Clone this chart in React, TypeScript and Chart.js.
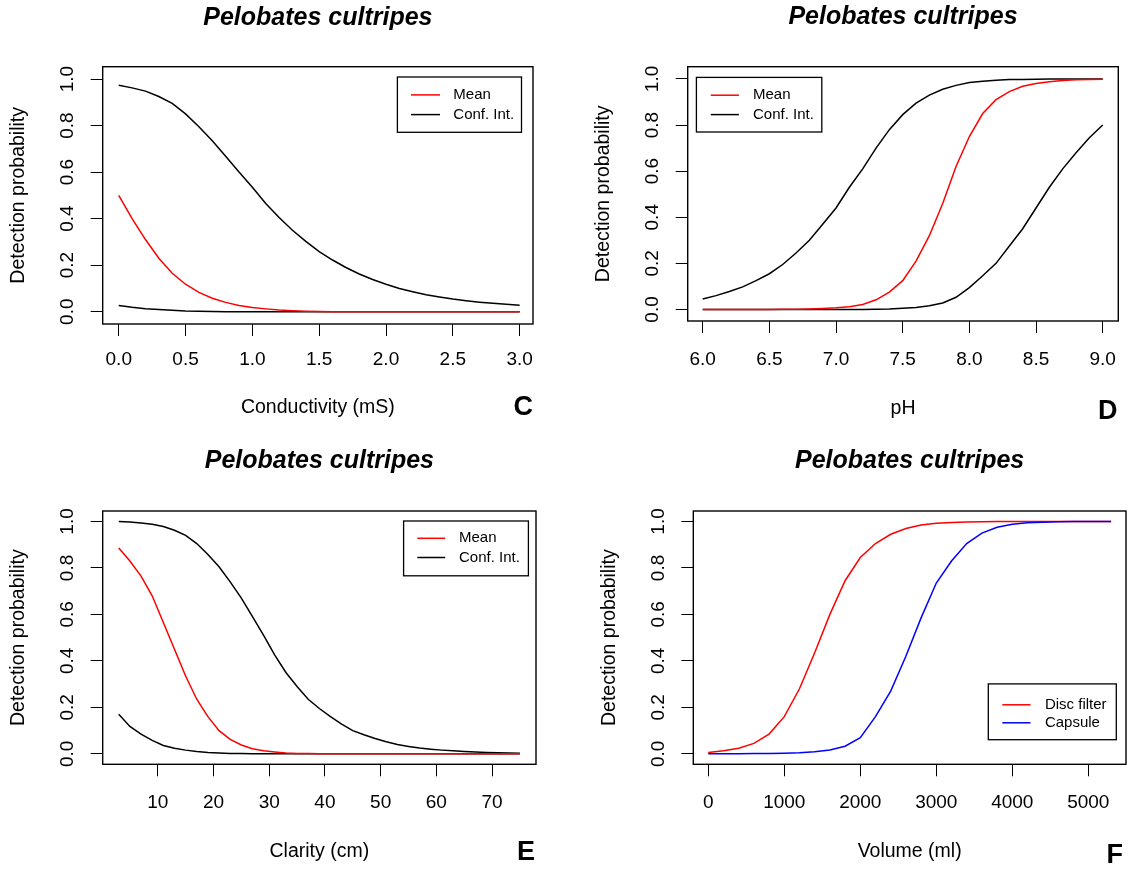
import React, { useEffect, useRef } from 'react';
import { Chart, registerables } from 'chart.js';

Chart.register(...registerables);

const FONT = '"Liberation Sans", Arial, Helvetica, sans-serif';

// ---------- Shared y axis ----------
const yTicks = [0, 0.2, 0.4, 0.6, 0.8, 1.0];
const yTickLabels = ['0.0', '0.2', '0.4', '0.6', '0.8', '1.0'];

// ---------- Panel C: Conductivity ----------
const xC = [0, 0.1, 0.2, 0.3, 0.4, 0.5, 0.6, 0.7, 0.8, 0.9, 1.0, 1.1, 1.2, 1.3, 1.4, 1.5, 1.6, 1.7, 1.8, 1.9, 2.0, 2.1, 2.2, 2.3, 2.4, 2.5, 2.6, 2.7, 2.8, 2.9, 3.0];
const meanC = [0.5, 0.4, 0.31, 0.23, 0.165, 0.118, 0.083, 0.058, 0.04, 0.027, 0.018, 0.012, 0.007, 0.004, 0.002, 0.001, 0, 0, 0, 0, 0, 0, 0, 0, 0, 0, 0, 0, 0, 0, 0];
const upperC = [0.973, 0.962, 0.948, 0.925, 0.895, 0.85, 0.795, 0.735, 0.668, 0.6, 0.535, 0.465, 0.405, 0.35, 0.302, 0.258, 0.222, 0.19, 0.162, 0.138, 0.118, 0.1, 0.086, 0.073, 0.063, 0.054, 0.047, 0.041, 0.036, 0.032, 0.028];
const lowerC = [0.027, 0.019, 0.013, 0.009, 0.006, 0.003, 0.002, 0.001, 0, 0, 0, 0, 0, 0, 0, 0, 0, 0, 0, 0, 0, 0, 0, 0, 0, 0, 0, 0, 0, 0, 0];
const xTicksC = [0, 0.5, 1, 1.5, 2, 2.5, 3];
const xTickLabelsC = ['0.0', '0.5', '1.0', '1.5', '2.0', '2.5', '3.0'];

// ---------- Panel D: pH ----------
const xD = [6.0, 6.1, 6.2, 6.3, 6.4, 6.5, 6.6, 6.7, 6.8, 6.9, 7.0, 7.1, 7.2, 7.3, 7.4, 7.5, 7.6, 7.7, 7.8, 7.9, 8.0, 8.1, 8.2, 8.3, 8.4, 8.5, 8.6, 8.7, 8.8, 8.9, 9.0];
const meanD = [0, 0, 0, 0, 0, 0, 0.001, 0.001, 0.002, 0.004, 0.007, 0.012, 0.022, 0.042, 0.075, 0.125, 0.21, 0.32, 0.46, 0.62, 0.75, 0.85, 0.91, 0.945, 0.968, 0.98, 0.988, 0.993, 0.996, 0.998, 0.999];
const upperD = [0.045, 0.06, 0.078, 0.098, 0.125, 0.155, 0.195, 0.245, 0.3, 0.37, 0.44, 0.53, 0.61, 0.7, 0.78, 0.845, 0.895, 0.93, 0.955, 0.972, 0.984, 0.99, 0.994, 0.997, 0.998, 0.999, 1, 1, 1, 1, 1];
const lowerD = [0, 0, 0, 0, 0, 0, 0, 0, 0, 0, 0, 0, 0, 0.001, 0.002, 0.005, 0.009, 0.016, 0.028, 0.053, 0.095, 0.146, 0.2, 0.275, 0.35, 0.44, 0.53, 0.61, 0.68, 0.745, 0.8];
const xTicksD = [6, 6.5, 7, 7.5, 8, 8.5, 9];
const xTickLabelsD = ['6.0', '6.5', '7.0', '7.5', '8.0', '8.5', '9.0'];

// ---------- Panel E: Clarity ----------
const xE = [3, 5, 7, 9, 11, 13, 15, 17, 19, 21, 23, 25, 27, 29, 31, 33, 35, 37, 39, 41, 43, 45, 47, 49, 51, 53, 55, 57, 59, 61, 63, 65, 67, 69, 71, 73, 75];
const meanE = [0.886, 0.83, 0.765, 0.68, 0.565, 0.45, 0.335, 0.235, 0.16, 0.1, 0.062, 0.038, 0.022, 0.013, 0.008, 0.004, 0.002, 0.001, 0, 0, 0, 0, 0, 0, 0, 0, 0, 0, 0, 0, 0, 0, 0, 0, 0, 0, 0];
const upperE = [1.0, 0.998, 0.993, 0.988, 0.978, 0.962, 0.94, 0.905, 0.858, 0.805, 0.74, 0.67, 0.59, 0.51, 0.425, 0.35, 0.29, 0.235, 0.195, 0.16, 0.128, 0.1, 0.082, 0.066, 0.052, 0.04, 0.032, 0.025, 0.02, 0.016, 0.013, 0.01, 0.008, 0.006, 0.005, 0.004, 0.003];
const lowerE = [0.17, 0.118, 0.085, 0.058, 0.036, 0.024, 0.016, 0.01, 0.006, 0.004, 0.002, 0.001, 0, 0, 0, 0, 0, 0, 0, 0, 0, 0, 0, 0, 0, 0, 0, 0, 0, 0, 0, 0, 0, 0, 0, 0, 0];
const xTicksE = [10, 20, 30, 40, 50, 60, 70];
const xTickLabelsE = ['10', '20', '30', '40', '50', '60', '70'];

// ---------- Panel F: Volume ----------
const xF = [0, 200, 400, 600, 800, 1000, 1200, 1400, 1600, 1800, 2000, 2200, 2400, 2600, 2800, 3000, 3200, 3400, 3600, 3800, 4000, 4200, 4400, 4600, 4800, 5000, 5200, 5300];
const discF = [0.006, 0.013, 0.024, 0.045, 0.085, 0.16, 0.28, 0.435, 0.6, 0.745, 0.845, 0.905, 0.945, 0.97, 0.985, 0.992, 0.996, 0.998, 0.999, 1, 1, 1, 1, 1, 1, 1, 1, 1];
const capsuleF = [0, 0, 0, 0.001, 0.002, 0.003, 0.005, 0.009, 0.017, 0.033, 0.07, 0.16, 0.27, 0.42, 0.585, 0.735, 0.83, 0.905, 0.95, 0.975, 0.988, 0.994, 0.997, 0.999, 1, 1, 1, 1];
const xTicksF = [0, 1000, 2000, 3000, 4000, 5000];
const xTickLabelsF = ['0', '1000', '2000', '3000', '4000', '5000'];

const TITLE = 'Pelobates cultripes';
const W = 566;
const H = 436;

type Series = { x: number[]; y: number[]; color: string };
type Panel = {
  left: number;
  top: number;
  area: { l: number; t: number; r: number; b: number };
  xMin: number;
  xMax: number;
  yMin: number;
  yMax: number;
  xTicks: number[];
  xTickLabels: string[];
  series: Series[];
  legend: { labels: string[]; colors: string[]; box: [number, number, number, number]; lx1: number; lx2: number; tx: number; rows: number[] };
  titleY: number;
  xTitle: string;
  xTitleY: number;
  letter: string;
  letterX: number;
  letterY: number;
  xTickLabelY: number;
  tickFont: number;
};

const panels: Panel[] = [
  {
    left: 0, top: 0,
    area: { l: 102.7, t: 66.7, r: 533, b: 324 },
    xMin: -0.12, xMax: 3.1, yMin: -0.053, yMax: 1.053,
    xTicks: xTicksC, xTickLabels: xTickLabelsC,
    series: [
      { x: xC, y: meanC, color: '#ff0000' },
      { x: xC, y: upperC, color: '#000000' },
      { x: xC, y: lowerC, color: '#000000' },
    ],
    legend: { labels: ['Mean', 'Conf. Int.'], colors: ['#ff0000', '#000000'], box: [397.4, 77, 521.5, 132.3], lx1: 411, lx2: 440, tx: 453.3, rows: [94.9, 114.6] },
    titleY: 18, xTitle: 'Conductivity (mS)', xTitleY: 408, letter: 'C', letterX: 533, letterY: 408, xTickLabelY: 360, tickFont: 19,
  },
  {
    left: 566, top: 0,
    area: { l: 121.7, t: 66.7, r: 552.3, b: 321 },
    xMin: 5.8875, xMax: 9.117, yMin: -0.05, yMax: 1.053,
    xTicks: xTicksD, xTickLabels: xTickLabelsD,
    series: [
      { x: xD, y: meanD, color: '#ff0000' },
      { x: xD, y: upperD, color: '#000000' },
      { x: xD, y: lowerD, color: '#000000' },
    ],
    legend: { labels: ['Mean', 'Conf. Int.'], colors: ['#ff0000', '#000000'], box: [130.4, 77.4, 255.8, 132], lx1: 144.8, lx2: 172.9, tx: 187, rows: [95.2, 114.6] },
    titleY: 17.5, xTitle: 'pH', xTitleY: 409, letter: 'D', letterX: 551.5, letterY: 412, xTickLabelY: 360, tickFont: 19,
  },
  {
    left: 0, top: 436,
    area: { l: 102.7, t: 75, r: 536, b: 328.3 },
    xMin: 0.12, xMax: 77.88, yMin: -0.045, yMax: 1.045,
    xTicks: xTicksE, xTickLabels: xTickLabelsE,
    series: [
      { x: xE, y: meanE, color: '#ff0000' },
      { x: xE, y: upperE, color: '#000000' },
      { x: xE, y: lowerE, color: '#000000' },
    ],
    legend: { labels: ['Mean', 'Conf. Int.'], colors: ['#ff0000', '#000000'], box: [403.6, 85, 528.4, 139.8], lx1: 417.3, lx2: 445.2, tx: 459, rows: [102.3, 121.5] },
    titleY: 25, xTitle: 'Clarity (cm)', xTitleY: 416, letter: 'E', letterX: 535, letterY: 416.5, xTickLabelY: 367, tickFont: 19,
  },
  {
    left: 566, top: 436,
    area: { l: 127.3, t: 75, r: 560, b: 328.3 },
    xMin: -197, xMax: 5496, yMin: -0.045, yMax: 1.045,
    xTicks: xTicksF, xTickLabels: xTickLabelsF,
    series: [
      { x: xF, y: capsuleF, color: '#0000ff' },
      { x: xF, y: discF, color: '#ff0000' },
    ],
    legend: { labels: ['Disc filter', 'Capsule'], colors: ['#ff0000', '#0000ff'], box: [422.3, 247.9, 550.3, 303.7], lx1: 436.3, lx2: 464.5, tx: 478.9, rows: [268.8, 286.8] },
    titleY: 25, xTitle: 'Volume (ml)', xTitleY: 416, letter: 'F', letterX: 557, letterY: 420, xTickLabelY: 366.5, tickFont: 19,
  },
];

function makeDecor(p: Panel) {
  return {
    id: 'rDecor',
    afterDraw(chart: any) {
      const ctx: CanvasRenderingContext2D = chart.ctx;
      const a = chart.chartArea;
      const xs = chart.scales.x;
      const ys = chart.scales.y;
      const cx = (a.left + a.right) / 2;
      const cy = (a.top + a.bottom) / 2;
      ctx.save();
      // plot box
      ctx.strokeStyle = '#000';
      ctx.lineWidth = 1.4;
      ctx.strokeRect(a.left, a.top, a.right - a.left, a.bottom - a.top);

      ctx.fillStyle = '#000';
      ctx.textAlign = 'center';
      ctx.textBaseline = 'middle';
      // x tick labels
      ctx.font = `${p.tickFont}px ${FONT}`;
      p.xTicks.forEach((v, i) => {
        ctx.fillText(p.xTickLabels[i], xs.getPixelForValue(v), p.xTickLabelY);
      });
      // y tick labels (rotated, parallel to axis)
      yTicks.forEach((v, i) => {
        ctx.save();
        ctx.translate(a.left - 34.5, ys.getPixelForValue(v));
        ctx.rotate(-Math.PI / 2);
        ctx.fillText(yTickLabels[i], 0, 0);
        ctx.restore();
      });
      // main title
      ctx.font = `italic bold 25px ${FONT}`;
      ctx.fillText(TITLE, cx, p.titleY);
      // axis titles
      ctx.font = `19.5px ${FONT}`;
      ctx.fillText(p.xTitle, cx, p.xTitleY);
      ctx.save();
      ctx.translate(a.left - 84, cy);
      ctx.rotate(-Math.PI / 2);
      ctx.fillText('Detection probability', 0, 0);
      ctx.restore();
      // panel letter
      ctx.font = `bold 27px ${FONT}`;
      ctx.textAlign = 'right';
      ctx.fillText(p.letter, p.letterX, p.letterY);

      // legend
      const lg = p.legend;
      const [bl, bt, br, bb] = lg.box;
      ctx.fillStyle = '#fff';
      ctx.fillRect(bl, bt, br - bl, bb - bt);
      ctx.strokeStyle = '#000';
      ctx.lineWidth = 1.3;
      ctx.strokeRect(bl, bt, br - bl, bb - bt);
      ctx.font = `15px ${FONT}`;
      ctx.textAlign = 'left';
      lg.labels.forEach((lab, i) => {
        const y = lg.rows[i];
        ctx.strokeStyle = lg.colors[i];
        ctx.lineWidth = 1.5;
        ctx.beginPath();
        ctx.moveTo(lg.lx1, y);
        ctx.lineTo(lg.lx2, y);
        ctx.stroke();
        ctx.fillStyle = '#000';
        ctx.fillText(lab, lg.tx, y);
      });
      ctx.restore();
    },
  };
}

function PanelChart({ p }: { p: Panel }) {
  const ref = useRef<HTMLCanvasElement | null>(null);
  useEffect(() => {
    if (!ref.current) return;
    const chart = new Chart(ref.current, {
      type: 'line',
      data: {
        datasets: p.series.map((s) => ({
          data: s.x.map((x, i) => ({ x, y: s.y[i] })),
          borderColor: s.color,
          backgroundColor: s.color,
          borderWidth: 1.5,
          pointRadius: 0,
          tension: 0,
          fill: false,
        })),
      },
      options: {
        responsive: false,
        animation: false,
        events: [],
        layout: { padding: { left: 0, top: p.area.t, right: W - p.area.r, bottom: 0 } },
        plugins: {
          legend: { display: false },
          title: { display: false },
          tooltip: { enabled: false },
        },
        scales: {
          x: {
            type: 'linear',
            position: 'bottom',
            min: p.xMin,
            max: p.xMax,
            afterBuildTicks: (s: any) => {
              s.ticks = p.xTicks.map((v) => ({ value: v }));
            },
            afterFit: (s: any) => {
              s.height = H - p.area.b;
            },
            ticks: { display: false },
            grid: { display: true, drawOnChartArea: false, drawTicks: true, tickLength: 12, color: '#000', lineWidth: 1 },
            border: { display: false },
          },
          y: {
            type: 'linear',
            position: 'left',
            min: p.yMin,
            max: p.yMax,
            afterBuildTicks: (s: any) => {
              s.ticks = yTicks.map((v) => ({ value: v }));
            },
            afterFit: (s: any) => {
              s.width = p.area.l;
            },
            ticks: { display: false },
            grid: { display: true, drawOnChartArea: false, drawTicks: true, tickLength: 12, color: '#000', lineWidth: 1 },
            border: { display: false },
          },
        },
      },
      plugins: [makeDecor(p)],
    } as any);
    return () => chart.destroy();
  }, [p]);
  return (
    <div style={{ position: 'absolute', left: p.left, top: p.top, width: W, height: H }}>
      <canvas ref={ref} width={W} height={H} style={{ width: W, height: H, display: 'block' }} />
    </div>
  );
}

export default function App() {
  return (
    <div style={{ position: 'absolute', left: 0, top: 0, width: 1132, height: 872, background: '#fff', overflow: 'hidden' }}>
      {panels.map((p, i) => (
        <PanelChart key={i} p={p} />
      ))}
    </div>
  );
}
